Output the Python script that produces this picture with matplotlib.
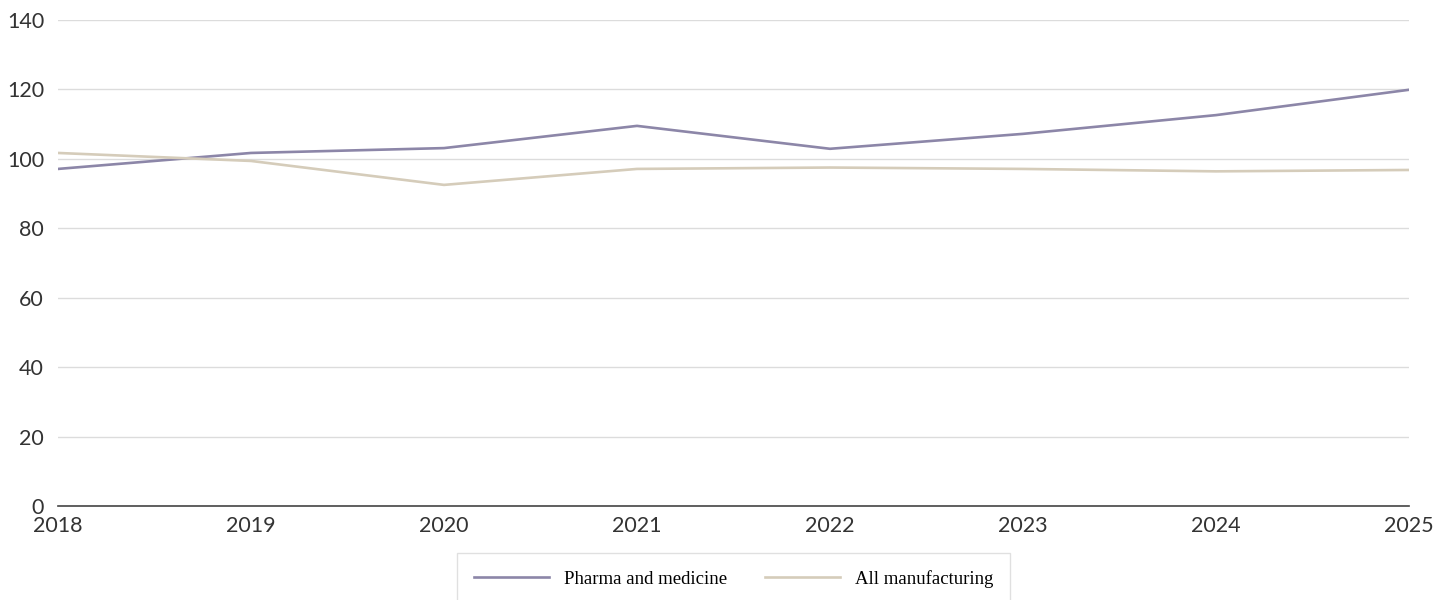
import matplotlib.pyplot as plt

# Data
years = [2018, 2019, 2020, 2021, 2022, 2023, 2024, 2025]
pharma = [97.1, 101.7, 103.1, 109.5, 102.9, 107.2, 112.6, 119.9]
all_manuf = [101.7, 99.4, 92.5, 97.1, 97.5, 97.1, 96.4, 96.8]
y_ticks = [0, 20, 40, 60, 80, 100, 120, 140]

purple = '#8C86A8'
beige = '#D5CCBA'

plt.rcParams['font.family'] = ['Lato', 'DejaVu Sans']

fig = plt.figure(figsize=(14.53, 6), dpi=100)
ax = fig.add_axes([58 / 1453, 94 / 600, (1409 - 58) / 1453, 486 / 600])

ax.plot(years, pharma, color=purple, linewidth=1.9, label='Pharma and medicine', zorder=3)
ax.plot(years, all_manuf, color=beige, linewidth=1.9, label='All manufacturing', zorder=3)

ax.set_xlim(2018, 2025)
ax.set_ylim(0, 140)
ax.set_yticks(y_ticks)
ax.set_xticks(years)
ax.grid(axis='y', color='#dcdcdc', linewidth=1)
ax.set_axisbelow(True)

for side in ['top', 'right', 'left']:
    ax.spines[side].set_visible(False)
ax.spines['bottom'].set_color('#444444')
ax.spines['bottom'].set_linewidth(1.2)

ax.tick_params(axis='y', length=0, pad=10, labelsize=15.5, labelcolor='#333333')
ax.tick_params(axis='x', length=0, pad=7, labelsize=15.5, labelcolor='#333333')

leg = fig.legend(loc='upper center', bbox_to_anchor=(0.505, 0.094), ncol=2,
                 frameon=True, fancybox=False, edgecolor='#d9d9d9',
                 prop={'family': ['Liberation Serif'], 'size': 13.5},
                 handlelength=4.0, columnspacing=2.0, borderpad=0.9)
leg.get_frame().set_linewidth(1)

fig.savefig('out.png', dpi=100)
